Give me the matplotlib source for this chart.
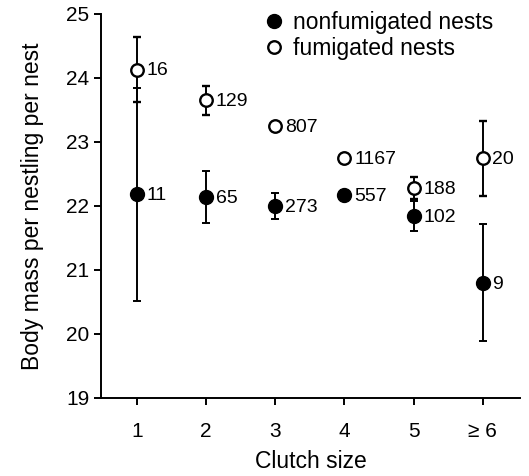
import matplotlib as mpl
mpl.use('Agg')

import matplotlib.pyplot as plt

plt.rcParams['font.family'] = ['Liberation Sans', 'DejaVu Sans']

# data
clutch = [1, 2, 3, 4, 5, 6]
clutch_labels = ['1', '2', '3', '4', '5', '\u2265 6']

nonfum_mean = [22.18, 22.14, 22.00, 22.17, 21.84, 20.80]
nonfum_err = [1.66, 0.40, 0.20, 0.08, 0.23, 0.91]
nonfum_n = ['11', '65', '273', '557', '102', '9']

fum_mean = [24.13, 23.65, 23.25, 22.75, 22.28, 22.74]
fum_err = [0.50, 0.23, 0.0, 0.0, 0.17, 0.58]
fum_n = ['16', '129', '807', '1167', '188', '20']

fig = plt.figure(figsize=(5.29, 4.76), dpi=100)
ax = fig.add_axes([0.191, 0.164, 0.792, 0.807])

ax.errorbar(clutch, nonfum_mean, yerr=nonfum_err, fmt='o', color='black',
            markersize=10, capsize=3, elinewidth=1.4, capthick=1.4,
            label='nonfumigated nests', zorder=3)
ax.errorbar(clutch, fum_mean, yerr=fum_err, fmt='o', color='black',
            markerfacecolor='white', markeredgewidth=1.7, markersize=9,
            capsize=3, elinewidth=1.4, capthick=1.4,
            label='fumigated nests', zorder=4)

for x, y, n in zip(clutch, nonfum_mean, nonfum_n):
    ax.annotate(n, (x, y), xytext=(7, -1), textcoords='offset points',
                va='center', ha='left', fontsize=14)
for x, y, n in zip(clutch, fum_mean, fum_n):
    ax.annotate(n, (x, y), xytext=(7, -1), textcoords='offset points',
                va='center', ha='left', fontsize=14)

ax.set_xlim(0.48, 6.54)
ax.set_ylim(19, 25)
ax.set_xticks(clutch)
ax.set_xticklabels(clutch_labels)
ax.set_yticks([19, 20, 21, 22, 23, 24, 25])
ax.tick_params(labelsize=15, length=5, width=1.4)
ax.tick_params(axis='x', pad=12)
ax.spines['top'].set_visible(False)
ax.spines['right'].set_visible(False)
ax.spines['left'].set_linewidth(1.4)
ax.spines['bottom'].set_linewidth(1.4)

ax.set_xlabel('Clutch size', fontsize=16.5, labelpad=7)
ax.set_ylabel('Body mass per nestling per nest', fontsize=16.5, labelpad=16)

handles, labels = ax.get_legend_handles_labels()
handles = [h[0] for h in handles]
ax.legend(handles, labels, loc='upper left', bbox_to_anchor=(0.33, 1.06),
          frameon=False, fontsize=16.5, handletextpad=0.25, labelspacing=0.1,
          handlelength=1.2)

plt.savefig('out.png', dpi=100)
plt.close()
